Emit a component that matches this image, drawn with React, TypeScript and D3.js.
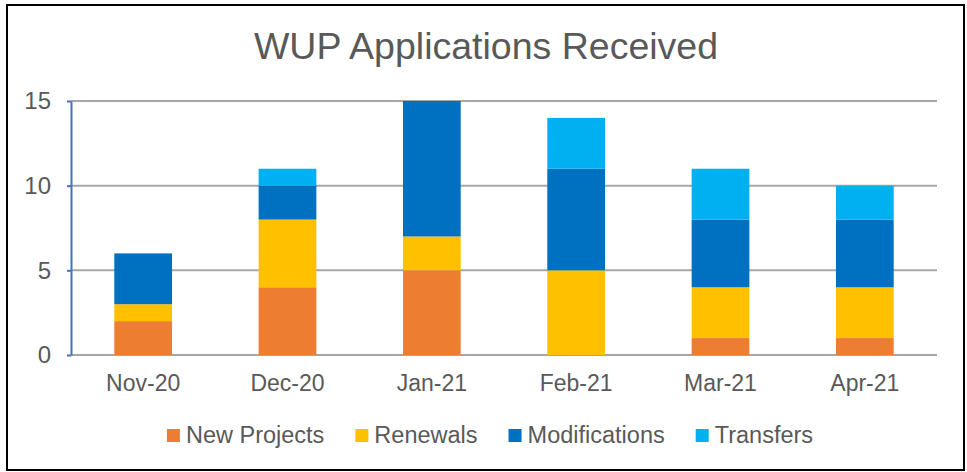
import React, {useEffect, useRef} from 'react';
import * as d3 from 'd3';

const months = ['Nov-20', 'Dec-20', 'Jan-21', 'Feb-21', 'Mar-21', 'Apr-21'];
const newProjects = [2, 4, 5, 0, 1, 1];
const renewals = [1, 4, 2, 5, 3, 3];
const modifications = [3, 2, 8, 6, 4, 4];
const transfers = [0, 1, 0, 3, 3, 2];
const seriesNames = ['New Projects', 'Renewals', 'Modifications', 'Transfers'];
const seriesColors = ['#ED7D31', '#FFC000', '#0070C0', '#00B0F0'];
const yTicks = [0, 5, 10, 15];

const W = 967;
const H = 472;
const FONT = '"Liberation Sans", Arial, sans-serif';

const App = () => {
    const ref = useRef<SVGSVGElement>(null);

    useEffect(() => {
        const svg = d3.select(ref.current);
        svg.selectAll('*').remove();

        const margin = {top: 101, right: 30, bottom: 117, left: 71};
        const width = W - margin.left - margin.right;
        const height = H - margin.top - margin.bottom;

        // outer frame
        svg.append('rect')
            .attr('x', 7).attr('y', 5)
            .attr('width', 957).attr('height', 465)
            .attr('fill', '#fff')
            .attr('stroke', '#000')
            .attr('stroke-width', 2);

        svg.append('text')
            .attr('x', 486).attr('y', 59)
            .attr('text-anchor', 'middle')
            .attr('font-family', FONT)
            .attr('font-size', 37.5)
            .attr('fill', '#595959')
            .text('WUP Applications Received');

        const rows = months.map((m, i) => ({
            month: m,
            'New Projects': newProjects[i],
            'Renewals': renewals[i],
            'Modifications': modifications[i],
            'Transfers': transfers[i],
        }));

        const x = d3.scaleBand()
            .domain(months)
            .range([0, width])
            .paddingInner(0.6)
            .paddingOuter(0.3);

        const y = d3.scaleLinear()
            .domain([0, 15])
            .range([height, 0]);

        const g = svg.append('g')
            .attr('transform', `translate(${margin.left},${margin.top})`);

        // gridlines
        g.selectAll('.grid')
            .data(yTicks)
            .enter().append('line')
            .attr('x1', 0).attr('x2', width)
            .attr('y1', d => y(d)).attr('y2', d => y(d))
            .attr('stroke', '#A6A6A6')
            .attr('stroke-width', 2);

        const stacked = d3.stack<any>().keys(seriesNames)(rows);

        g.selectAll('.layer')
            .data(stacked)
            .enter().append('g')
            .attr('fill', (d, i) => seriesColors[i])
            .selectAll('rect')
            .data(d => d)
            .enter().append('rect')
            .attr('x', d => x(d.data.month)!)
            .attr('width', x.bandwidth())
            .attr('y', d => y(d[1]))
            .attr('height', d => y(d[0]) - y(d[1]));

        // y axis
        const yAxis = g.append('g')
            .call(d3.axisLeft(y).tickValues(yTicks).tickSize(4).tickPadding(16).tickSizeOuter(0));
        yAxis.select('.domain').attr('stroke', '#4472C4').attr('stroke-width', 2);
        yAxis.selectAll('.tick line').attr('stroke', '#4472C4').attr('stroke-width', 2);
        yAxis.selectAll('.tick text')
            .attr('font-family', FONT)
            .attr('font-size', 24)
            .attr('fill', '#595959');

        // x labels
        g.selectAll('.xlabel')
            .data(months)
            .enter().append('text')
            .attr('x', d => x(d)! + x.bandwidth() / 2)
            .attr('y', height + 36)
            .attr('text-anchor', 'middle')
            .attr('font-family', FONT)
            .attr('font-size', 23)
            .attr('fill', '#595959')
            .text(d => d);

        // legend
        const legend = svg.append('g');
        const items = legend.selectAll('g')
            .data(seriesNames)
            .enter().append('g');
        items.append('rect')
            .attr('width', 13).attr('height', 13)
            .attr('y', 429)
            .attr('fill', (d, i) => seriesColors[i]);
        items.append('text')
            .attr('x', 19)
            .attr('y', 443)
            .attr('font-family', FONT)
            .attr('font-size', 23.5)
            .attr('fill', '#595959')
            .text(d => d);
        let offset = 0;
        const gap = 31;
        items.each(function () {
            const node = d3.select(this);
            node.attr('transform', `translate(${offset},0)`);
            const tw = (node.select('text').node() as SVGTextElement).getComputedTextLength();
            offset += 19 + tw + gap;
        });
        const total = offset - gap;
        legend.attr('transform', `translate(${490 - total / 2},0)`);
    }, []);

    return (
        <svg ref={ref} width={W} height={H} style={{position: 'absolute', left: 0, top: 0}}/>
    );
};

export default App;
